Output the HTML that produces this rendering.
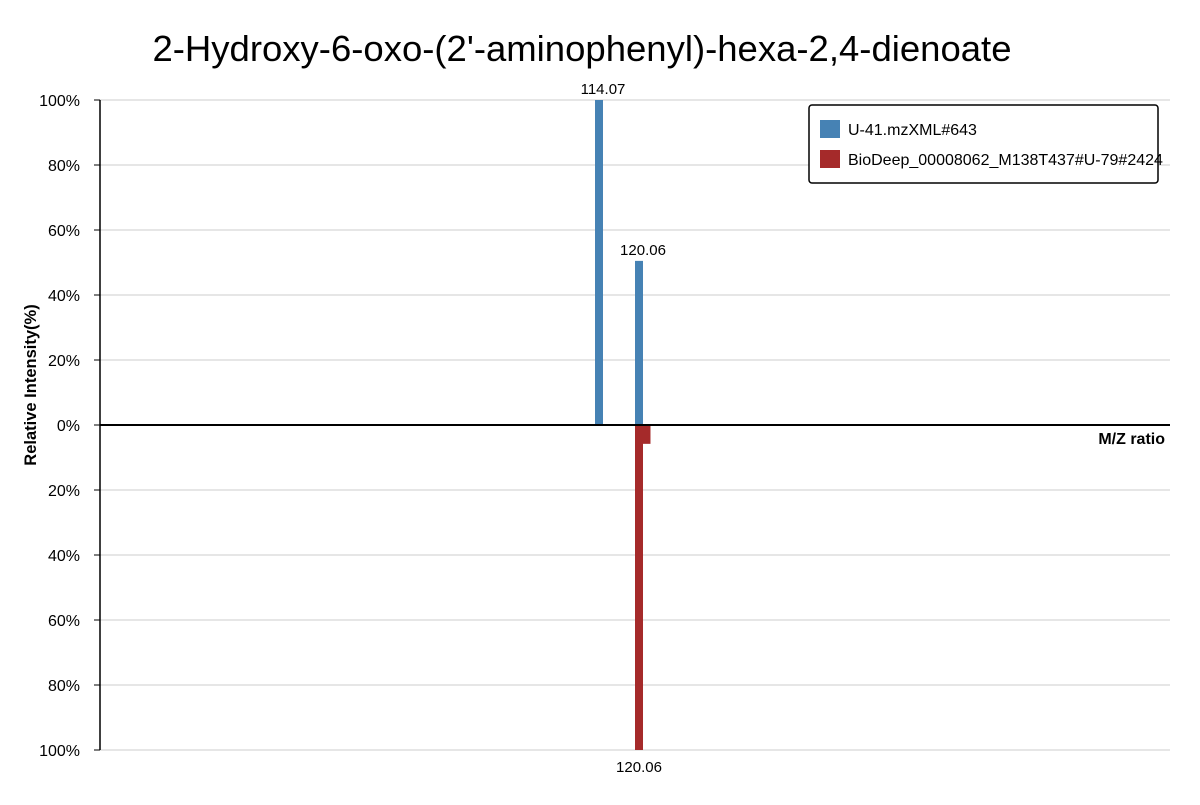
<!DOCTYPE html>
<html><head><meta charset="utf-8"><style>
body{margin:0;background:#fff;font-family:"Liberation Sans",sans-serif}
</style></head><body>
<svg width="1200" height="800" xmlns="http://www.w3.org/2000/svg">
<text x="582" y="61" font-size="36.5" text-anchor="middle">2-Hydroxy-6-oxo-(2'-aminophenyl)-hexa-2,4-dienoate</text>
<g id="grid"></g><g id="bars"></g><g id="axes"></g>
<text transform="translate(36,385) rotate(-90)" font-size="16.5" font-weight="bold" text-anchor="middle">Relative Intensity(%)</text>
<text x="1165" y="444" font-size="16" font-weight="bold" text-anchor="end">M/Z ratio</text>
<g>
<rect x="809" y="105" width="349" height="78" rx="3" fill="#fff" stroke="#000" stroke-width="1.5"/>
<rect x="820" y="120" width="20" height="18" fill="#4682b4"/>
<text x="848" y="135" font-size="16">U-41.mzXML#643</text>
<rect x="820" y="150" width="20" height="18" fill="#a52a2a"/>
<text x="848" y="165" font-size="16">BioDeep_00008062_M138T437#U-79#2424</text>
</g>
</svg>
<script>
const queryMz=[114.07,120.06];
const queryInt=[100,50.5];
const refMz=[120.06,121.18];
const refInt=[100,5.8];
const labeledQuery=[true,true];
const labeledRef=[true,false];
const yTicks=[100,80,60,40,20,0,20,40,60,80,100];
const NS="http://www.w3.org/2000/svg";
const x0=100,x1=1170,yTop=100,yZero=425,yBot=750;
const xs=mz=>599+(mz-114.07)*6.678;
const ysUp=v=>yZero-v*(yZero-yTop)/100;
const ysDown=v=>yZero+v*(yBot-yZero)/100;
function mk(tag,attrs,parent){const e=document.createElementNS(NS,tag);for(const k in attrs)e.setAttribute(k,attrs[k]);document.getElementById(parent).appendChild(e);return e;}
yTicks.forEach((t,i)=>{
  const y=i<=5?ysUp(t):ysDown(t);
  const g=mk('line',{x1:x0,x2:x1,y1:y,y2:y,stroke:'#ddd','stroke-width':1.5},'grid');
  
  
  const tk=mk('line',{x1:x0-6,x2:x0,y1:y,y2:y,stroke:'#000'},'axes');
  
  
  const tx=mk('text',{x:x0-20,y:y+6,'font-size':16,'text-anchor':'end'},'axes');
  tx.textContent=t+'%';
  
  
});
const ya=mk('line',{x1:x0,x2:x0,y1:yTop,y2:yBot,stroke:'#000','stroke-width':1.5},'axes');


const za=mk('line',{x1:x0,x2:x1,y1:yZero,y2:yZero,stroke:'#000','stroke-width':2},'axes');


queryMz.forEach((m,i)=>{
  const y=ysUp(queryInt[i]);
  const r=mk('rect',{x:xs(m)-4,y:y,width:8,height:yZero-y,fill:'#4682b4'},'bars');
  
  
  if(labeledQuery[i]){const t=mk('text',{x:xs(m)+4,y:y-6,'font-size':15,'text-anchor':'middle'},'bars');t.textContent=m.toFixed(2);
  
  }
});
refMz.forEach((m,i)=>{
  const y=ysDown(refInt[i]);
  const r=mk('rect',{x:xs(m)-4,y:yZero,width:8,height:y-yZero,fill:'#a52a2a'},'bars');
  
  
  if(labeledRef[i]){const t=mk('text',{x:xs(m),y:y+22,'font-size':15,'text-anchor':'middle'},'bars');t.textContent=m.toFixed(2);
  
  }
});
</script>
</body></html>
